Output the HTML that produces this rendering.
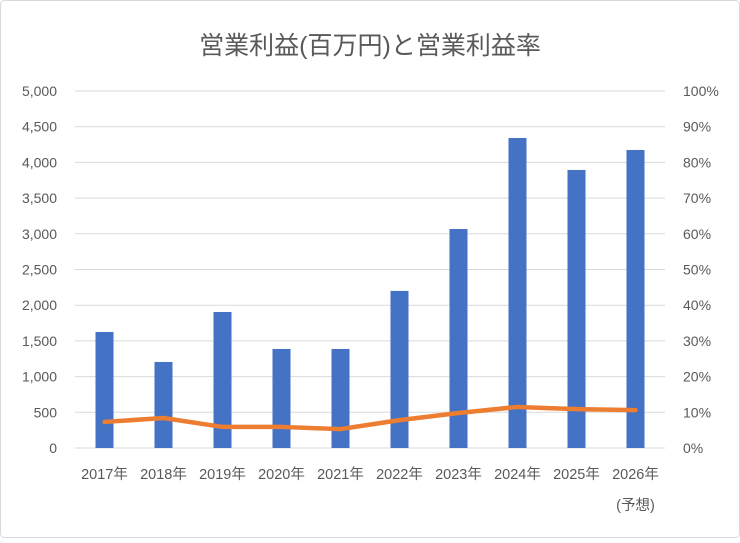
<!DOCTYPE html>
<html><head><meta charset="utf-8"><style>
body{margin:0;background:#fff;}
svg text{font-family:"Liberation Sans","Noto Sans CJK JP",sans-serif;fill:#595959;}
</style></head><body>
<svg width="740" height="538">
<rect x="0.5" y="0.5" width="739" height="537" rx="4" fill="#fff" stroke="#d9d9d9"/>
<text x="370" y="54" text-anchor="middle" font-size="25">営業利益(百万円)と営業利益率</text>
<g id="grid"></g><g id="bars"></g><g id="line"></g><g id="labels"></g>
</svg>
<script>
const categories=["2017年","2018年","2019年","2020年","2021年","2022年","2023年","2024年","2025年","2026年"];
const profit=[1625,1205,1905,1387,1387,2200,3067,4342,3894,4174];
const margin=[7.3,8.4,5.9,5.9,5.3,7.8,9.8,11.5,10.9,10.6];
const leftTicks=["0","500","1,000","1,500","2,000","2,500","3,000","3,500","4,000","4,500","5,000"];
const rightTicks=["0%","10%","20%","30%","40%","50%","60%","70%","80%","90%","100%"];
const NS="http://www.w3.org/2000/svg";
const x0=75,x1=665,y0=448,y1=91;
const yL=v=>y0-(v/5000)*(y0-y1);
const yR=v=>y0-(v/100)*(y0-y1);
const bw=(x1-x0)/categories.length;
const xC=i=>x0+bw*(i+0.5);
function mk(t,p,a){const e=document.createElementNS(NS,t);for(const k in a)e.setAttribute(k,a[k]);p.appendChild(e);return e;}
const grid=document.getElementById('grid'),bars=document.getElementById('bars'),line=document.getElementById('line'),labels=document.getElementById('labels');
leftTicks.forEach((t,i)=>{
 const y=y0-i*(y0-y1)/10;
 const g=mk('line',grid,{x1:x0,x2:x1,y1:y,y2:y,stroke:'#d9d9d9','stroke-width':1});
 
 
 const l=mk('text',labels,{x:57,y:y+5,'text-anchor':'end','font-size':14});
 l.textContent=t;
 
 
 const r=mk('text',labels,{x:683,y:y+5,'font-size':14});
 r.textContent=rightTicks[i];
 
 
});
categories.forEach((c,i)=>{
 const b=mk('rect',bars,{x:xC(i)-9,y:yL(profit[i]),width:18,height:y0-yL(profit[i]),fill:'#4472c4'});
 
 
 const t=mk('text',labels,{x:xC(i),y:479,'text-anchor':'middle','font-size':14.5});
 t.textContent=c;
 
 
});
const n=mk('text',labels,{x:xC(9),y:510,'text-anchor':'middle','font-size':14.5});
n.textContent='(予想)';


const pl=mk('polyline',line,{points:margin.map((v,i)=>xC(i)+','+yR(v)).join(' '),fill:'none',stroke:'#ed7d31','stroke-width':4.5,'stroke-linejoin':'round','stroke-linecap':'round'});


</script>
</body></html>
